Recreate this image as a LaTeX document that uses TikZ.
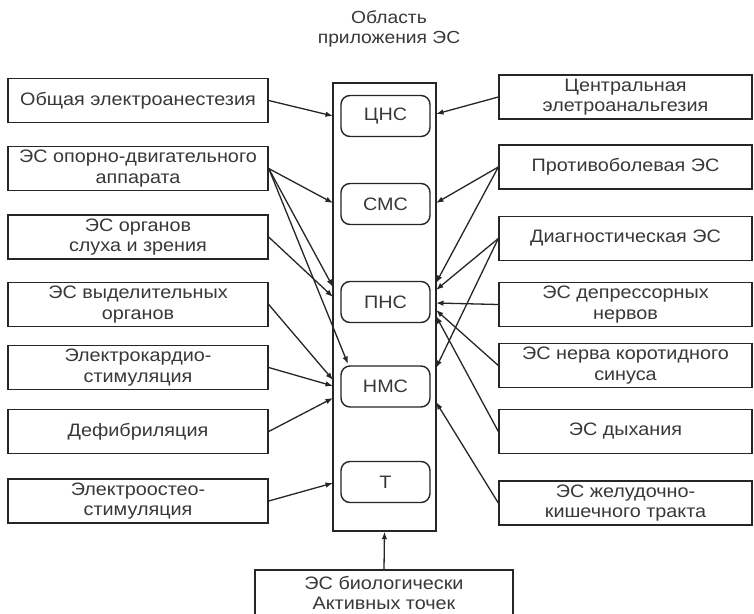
\documentclass[tikz,border=0pt]{standalone}
\usepackage{fontspec}
\setmainfont{Liberation Sans}[FakeStretch=1.1]
\usetikzlibrary{arrows.meta,calc}
\definecolor{ink}{HTML}{262626}
\definecolor{txt}{HTML}{383838}
\begin{document}
\begin{tikzpicture}[x=1pt,y=-1pt,
  box/.style={draw=ink,line width=1.4pt,minimum width=260pt,minimum height=44pt,
    align=center,font=\fontsize{18}{20.5}\selectfont,text=txt,inner sep=0pt},
  rbox/.style={box,minimum width=253pt},
  organ/.style={draw=ink,line width=1.4pt,rounded corners=9pt,minimum width=89pt,
    minimum height=41pt,font=\fontsize{18}{20.5}\selectfont,text=txt,inner sep=0pt},
  col/.style={draw=ink,line width=1.4pt,minimum width=103pt,minimum height=448pt,inner sep=0pt},
  arr/.style={draw=ink,line width=1.3pt,-{Latex[length=7.5pt,width=5.5pt]}},
  title/.style={align=center,font=\fontsize{17.5}{19.5}\selectfont,text=txt}]
\clip (0,0) rectangle (754,613);
\fill[white] (0,0) rectangle (754,613);

\node[title] (ttl) at (389,29) {Область\\приложения ЭС};

\node[col] (col) at (384.5,307) {};
\node[organ] (cns) at (385.5,116) {ЦНС};
\node[organ] (sms) at (385.5,204) {СМС};
\node[organ] (pns) at (385.5,302) {ПНС};
\node[organ] (nms) at (385.5,386.5) {НМС};
\node[organ] (tt) at (385.5,482) {Т};

\node[box] (L1) at (138,100.5) {Общая электроанестезия};
\node[box] (L2) at (138,168.5) {ЭС опорно-двигательного\\аппарата};
\node[box] (L3) at (138,237) {ЭС органов\\слуха и зрения};
\node[box] (L4) at (138,304.5) {ЭС выделительных\\органов};
\node[box] (L5) at (138,367.5) {Электрокардио-\\стимуляция};
\node[box] (L6) at (138,431.5) {Дефибриляция};
\node[box] (L7) at (138,501) {Электроостео-\\стимуляция};

\node[rbox] (R1) at (625.5,97) {Центральная\\элетроанальгезия};
\node[rbox] (R2) at (625.5,167) {Противоболевая ЭС};
\node[rbox] (R3) at (625.5,238.5) {Диагностическая ЭС};
\node[rbox] (R4) at (625.5,304.5) {ЭС депрессорных\\нервов};
\node[rbox] (R5) at (625.5,365.5) {ЭС нерва коротидного\\синуса};
\node[rbox] (R6) at (625.5,431.5) {ЭС дыхания};
\node[rbox] (R7) at (625.5,503) {ЭС желудочно-\\кишечного тракта};

\node[box,minimum width=258pt,minimum height=46pt] (bio) at (384,593) {ЭС биологически\\Активных точек};

% arrow end points on the column edges
\coordinate (a1) at (333,116);
\coordinate (a2) at (333,203);
\coordinate (a3) at (333,287);
\coordinate (a4) at (348,364);
\coordinate (a5) at (333,297);
\coordinate (a6) at (333,380);
\coordinate (a7) at (333,386);
\coordinate (a8) at (333,398);
\coordinate (a9) at (333,483);
\coordinate (b1) at (436,114);
\coordinate (b2) at (436,203);
\coordinate (b3) at (436,283);
\coordinate (b4) at (436,290);
\coordinate (b5) at (436,368);
\coordinate (b6) at (436,303);
\coordinate (b7) at (436,310);
\coordinate (b8) at (436,316);
\coordinate (b9) at (436,402);

\draw[arr] (L1.east) -- (a1);
\draw[arr] (L2.east) -- (a2);
\draw[arr] (L2.east) -- (a3);
\draw[arr] (L2.east) -- (a4);
\draw[arr] (L3.east) -- (a5);
\draw[arr] (L4.east) -- (a6);
\draw[arr] (L5.east) -- (a7);
\draw[arr] (L6.east) -- (a8);
\draw[arr] (L7.east) -- (a9);

\draw[arr] (R1.west) -- (b1);
\draw[arr] (R2.west) -- (b2);
\draw[arr] (R2.west) -- (b3);
\draw[arr] (R3.west) -- (b4);
\draw[arr] (R3.west) -- (b5);
\draw[arr] (R4.west) -- (b6);
\draw[arr] (R5.west) -- (b7);
\draw[arr] (R6.west) -- (b8);
\draw[arr] (R7.west) -- (b9);

\draw[arr] (bio.north) -- (col.south);
\end{tikzpicture}
\end{document}
